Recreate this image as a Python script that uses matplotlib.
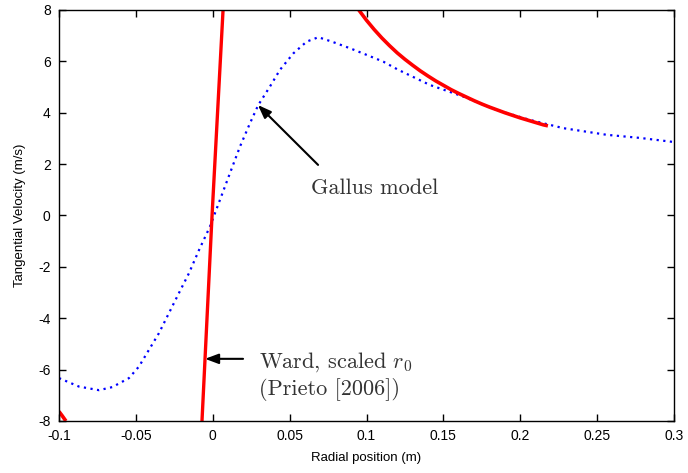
import matplotlib
matplotlib.use("Agg")
import matplotlib.pyplot as plt

# Blue dotted: Gallus model
gallus_x = [-0.1, -0.087, -0.074, -0.0653, -0.0545, -0.048, -0.0415, -0.035, -0.0285,
            -0.022, -0.0155, -0.0089, -0.0018, 0.0047, 0.0112, 0.0177, 0.0242, 0.0296,
            0.0372, 0.0437, 0.0524, 0.0611, 0.0687, 0.0774, 0.0893, 0.1002, 0.1109,
            0.1207, 0.1413, 0.163, 0.1847, 0.2063, 0.228, 0.2564, 0.2779, 0.3]
gallus_y = [-6.33, -6.66, -6.80, -6.68, -6.33, -5.88, -5.23, -4.58, -3.80,
            -3.02, -2.25, -1.34, -0.43, 0.61, 1.65, 2.68, 3.59, 4.30,
            5.02, 5.67, 6.31, 6.77, 6.94, 6.77, 6.51, 6.25, 5.99,
            5.67, 5.08, 4.63, 4.11, 3.72, 3.40, 3.14, 3.02, 2.86]

# Red solid: Ward, scaled r0 (steep core)
ward_core_x = [-0.007, -0.0005, 0.0067]
ward_core_y = [-8.0, -0.05, 8.0]

# Red solid: outer branch (positive)
ward_outer_x = [0.095, 0.1, 0.105, 0.11, 0.115, 0.12, 0.125, 0.13, 0.135, 0.14, 0.145,
                0.15, 0.155, 0.16, 0.165, 0.17, 0.175, 0.18, 0.185, 0.19, 0.195, 0.2,
                0.205, 0.21, 0.215, 0.218]
ward_outer_y = [8.0, 7.6, 7.24, 6.91, 6.61, 6.33, 6.08, 5.85, 5.63, 5.43, 5.24,
                5.07, 4.9, 4.75, 4.61, 4.47, 4.34, 4.22, 4.11, 4.0, 3.9, 3.8,
                3.71, 3.62, 3.53, 3.49]

# Red solid: outer branch (negative, bottom-left corner)
ward_neg_x = [-0.1, -0.098, -0.0955]
ward_neg_y = [-7.63, -7.79, -8.0]

xticks = [-0.1, -0.05, 0, 0.05, 0.1, 0.15, 0.2, 0.25, 0.3]
xticklabels = ["-0.1", "-0.05", "0", "0.05", "0.1", "0.15", "0.2", "0.25", "0.3"]
yticks = [-8, -6, -4, -2, 0, 2, 4, 6, 8]
yticklabels = ["-8", "-6", "-4", "-2", "0", "2", "4", "6", "8"]

plt.rcParams['font.family'] = ['Liberation Sans', 'DejaVu Sans']
plt.rcParams['mathtext.fontset'] = 'cm'
plt.rcParams['axes.unicode_minus'] = False

fig = plt.figure(figsize=(6.88, 4.73), dpi=100)
ax = fig.add_axes([59/688, 1-421/473, (674-59)/688, (421-10)/473])

ax.plot(gallus_x, gallus_y, color='#0000ff', linestyle=(0, (1, 2)), linewidth=1.6)
red = '#ff0000'
ax.plot(ward_core_x, ward_core_y, color=red, linewidth=2.4, solid_capstyle='butt')
ax.plot(ward_outer_x, ward_outer_y, color=red, linewidth=2.6, solid_capstyle='butt')
ax.plot(ward_neg_x, ward_neg_y, color=red, linewidth=2.6, solid_capstyle='butt')

ax.set_xlim(-0.1, 0.3)
ax.set_ylim(-8, 8)
ax.set_xticks(xticks)
ax.set_xticklabels(xticklabels)
ax.set_yticks(yticks)
ax.set_yticklabels(yticklabels)
ax.tick_params(direction='in', length=5, width=1, top=True, right=True, labelsize=10, pad=6)
for s in ax.spines.values():
    s.set_linewidth(1.0)

ax.set_xlabel("Radial position (m)", fontsize=9.5, labelpad=6)
ax.set_ylabel("Tangential Velocity (m/s)", fontsize=9.5, labelpad=9)

arrowprops = dict(arrowstyle='-|>,head_length=0.8,head_width=0.3', color='black', lw=1.5,
                  shrinkA=0, shrinkB=0)
ax.annotate("", xy=(0.0294, 4.30), xytext=(0.0685, 1.97), arrowprops=arrowprops)
ax.text(0.1055, 1.07, "Gallus model", fontsize=16, family='cmr10', color='#333333',
        ha='center', va='center')

ax.annotate("", xy=(-0.005, -5.58), xytext=(0.0197, -5.58), arrowprops=arrowprops)
ax.text(0.030, -5.70, r"Ward, scaled $r_0$", fontsize=16, family='cmr10', color='#333333',
        ha='left', va='center')
ax.text(0.030, -6.79, "(Prieto [2006])", fontsize=16, family='cmr10', color='#333333',
        ha='left', va='center')

fig.savefig("out.png", dpi=100)
